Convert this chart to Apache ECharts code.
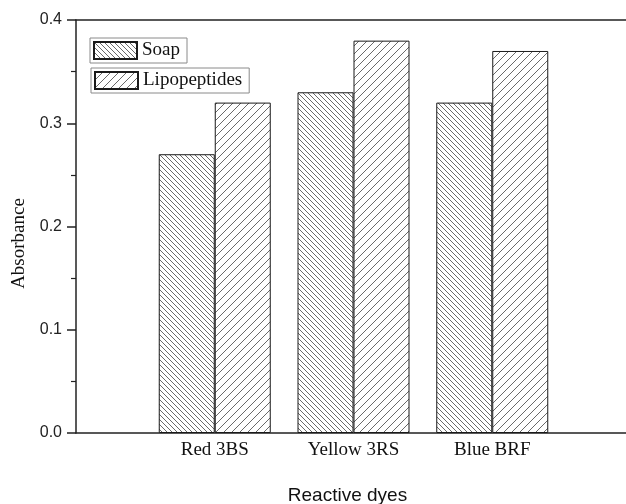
<!DOCTYPE html>
<html>
<head>
<meta charset="utf-8">
<script src="https://cdn.jsdelivr.net/npm/echarts@6/dist/echarts.min.js"></script>
<style>
  html, body { margin: 0; padding: 0; background: #fff; }
  #chart { width: 626px; height: 504px; }
</style>
</head>
<body>
<div id="chart"></div>
<script>
// Absorbance of three reactive dyes after treatment
const categories = ['Red 3BS', 'Yellow 3RS', 'Blue BRF'];
const soapValues = [0.27, 0.33, 0.32];
const lipopeptideValues = [0.32, 0.38, 0.37];
const yTicks = [0.0, 0.1, 0.2, 0.3, 0.4];

// Diagonal hatch fill: dir = 1 for "/", -1 for "\"
function hatch(period, dir) {
  const c = document.createElement('canvas');
  c.width = period; c.height = period;
  const g = c.getContext('2d');
  g.fillStyle = '#fff';
  g.fillRect(0, 0, period, period);
  g.strokeStyle = '#6a6a6a';
  g.lineWidth = 1;
  for (let k = -1; k <= 1; k++) {
    g.beginPath();
    if (dir > 0) {
      g.moveTo(k * period - 1, period + 1);
      g.lineTo(k * period + period + 1, -1);
    } else {
      g.moveTo(k * period - 1, -1);
      g.lineTo(k * period + period + 1, period + 1);
    }
    g.stroke();
  }
  return { image: c, repeat: 'repeat' };
}

const serif = 'Liberation Serif';
const sans = 'Liberation Sans';

const chart = echarts.init(document.getElementById('chart'), null, { renderer: 'canvas' });

const legendBase = {
  orient: 'vertical',
  itemWidth: 43,
  itemHeight: 17,
  itemGap: 0,
  borderColor: '#8a8a8a',
  borderWidth: 1,
  borderRadius: 0,
  padding: [3, 7, 3, 3],
  icon: 'rect',
  selectedMode: false,
  textStyle: { fontFamily: serif, fontSize: 19, color: '#111', lineHeight: 18 }
};

chart.setOption({
  backgroundColor: '#fff',
  animation: false,
  grid: { left: 76, right: -5, top: 20, bottom: 71, containLabel: false, outerBoundsMode: 'none' },
  legend: [
    Object.assign({}, legendBase, { data: ['Soap'], left: 90, top: 38 }),
    Object.assign({}, legendBase, { data: ['Lipopeptides'], left: 91, top: 68 })
  ],
  xAxis: [
    {
      type: 'value',
      min: 0,
      max: categories.length + 1,
      interval: 1,
      position: 'bottom',
      name: 'Reactive dyes',
      nameLocation: 'middle',
      nameGap: 53,
      nameTextStyle: { fontFamily: sans, fontSize: 19, color: '#111', padding: [0, 12, 0, 0] },
      axisLine: { show: true, lineStyle: { color: '#222', width: 1.5 } },
      axisTick: { show: false },
      splitLine: { show: false },
      axisLabel: {
        fontFamily: serif,
        fontSize: 19,
        color: '#111',
        margin: 8,
        formatter: v => categories[v - 1] || ''
      }
    },
    {
      type: 'value',
      min: 0,
      max: categories.length + 1,
      position: 'top',
      axisLine: { show: true, lineStyle: { color: '#222', width: 1.5 } },
      axisTick: { show: false },
      axisLabel: { show: false },
      splitLine: { show: false }
    }
  ],
  yAxis: {
    type: 'value',
    min: yTicks[0],
    max: yTicks[yTicks.length - 1],
    interval: 0.1,
    name: 'Absorbance',
    nameLocation: 'middle',
    nameGap: 46,
    nameTextStyle: { fontFamily: serif, fontSize: 19, color: '#111', padding: [0, 34, 0, 0] },
    axisLine: { show: true, lineStyle: { color: '#222', width: 1.5 } },
    axisTick: { show: true, inside: false, length: 9, lineStyle: { color: '#222', width: 1.5 } },
    minorTick: { show: true, splitNumber: 2, length: 5, lineStyle: { color: '#222', width: 1.2 } },
    splitLine: { show: false },
    axisLabel: {
      fontFamily: sans,
      fontSize: 16,
      color: '#222',
      margin: 14,
      formatter: v => v.toFixed(1)
    }
  },
  series: [
    {
      name: 'Soap',
      type: 'bar',
      barWidth: 56,
      barGap: '0%',
      data: soapValues.map((v, i) => [i + 1, v]),
      itemStyle: { color: hatch(5, -1), borderColor: '#1a1a1a', borderWidth: 1 }
    },
    {
      name: 'Lipopeptides',
      type: 'bar',
      barWidth: 56,
      barGap: '0%',
      data: lipopeptideValues.map((v, i) => [i + 1, v]),
      itemStyle: { color: hatch(8, 1), borderColor: '#1a1a1a', borderWidth: 1 }
    }
  ]
});
</script>
</body>
</html>
